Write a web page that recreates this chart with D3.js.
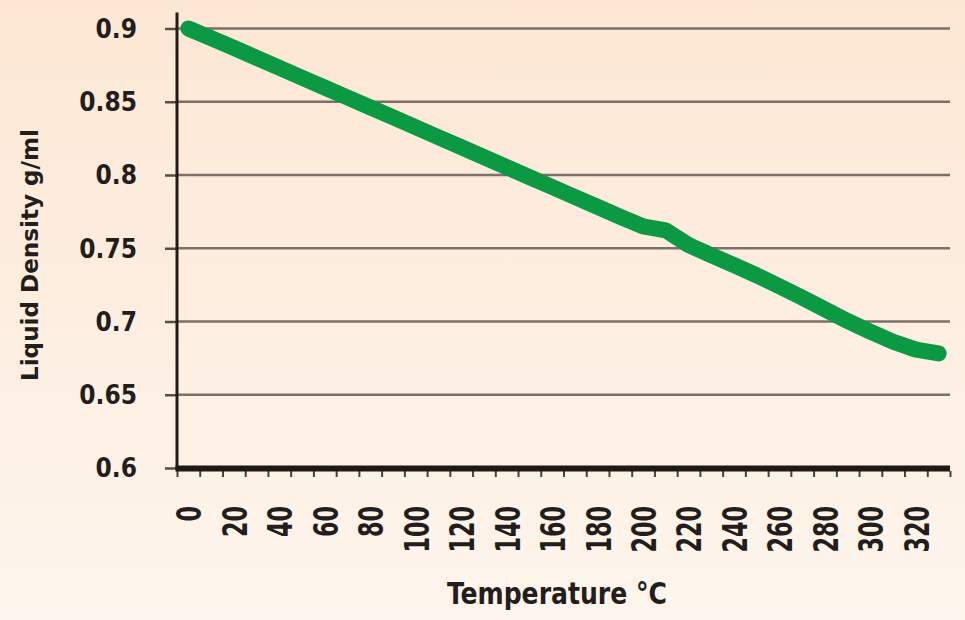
<!DOCTYPE html>
<html>
<head>
<meta charset="utf-8">
<script src="https://cdn.jsdelivr.net/npm/d3@7"></script>
<style>
  html, body { margin: 0; padding: 0; background: #fdf0e3; }
  svg { display: block; }
</style>
</head>
<body>
<svg id="chart" width="965" height="620"></svg>
<script>
// ---- data ----
const temperatures = [0, 10, 20, 30, 40, 50, 60, 70, 80, 90, 100, 110, 120, 130, 140, 150, 160,
  170, 180, 190, 200, 210, 220, 230, 240, 250, 260, 270, 280, 290, 300, 310, 320, 330];
const density = [0.9000, 0.8935, 0.8868, 0.8800, 0.8732, 0.8664, 0.8596, 0.8529, 0.8462, 0.8394,
  0.8326, 0.8258, 0.8190, 0.8122, 0.8054, 0.7986, 0.7918, 0.7850, 0.7782, 0.7714, 0.7650, 0.7622,
  0.7522, 0.7452, 0.7385, 0.7315, 0.7240, 0.7163, 0.7083, 0.7003, 0.6930, 0.6862, 0.6808, 0.6782];
const xTickLabels = [0, 20, 40, 60, 80, 100, 120, 140, 160, 180, 200, 220, 240, 260, 280, 300, 320];
const yTicks = [0.6, 0.65, 0.7, 0.75, 0.8, 0.85, 0.9];
const xTitle = "Temperature \u00B0C";
const yTitle = "Liquid Density g/ml";

(function () {
// ---- layout ----
const svg = d3.select("#chart");
const W = 965, H = 620;
const pLeft = 177, pRight = 950, pTop = 28.5, pBottom = 468;

const defs = svg.append("defs");
const grad = defs.append("linearGradient").attr("id", "bg").attr("x1", 0).attr("y1", 0).attr("x2", 0).attr("y2", 1);
grad.append("stop").attr("offset", "0%").attr("stop-color", "#fde7d4");
grad.append("stop").attr("offset", "100%").attr("stop-color", "#fdf5ed");
svg.append("rect").attr("width", W).attr("height", H).attr("fill", "url(#bg)");

const x = d3.scaleBand().domain(temperatures).range([pLeft, pRight]).paddingInner(0).paddingOuter(0);
const xEdges = d3.scaleLinear().domain([0, temperatures.length]).range([pLeft, pRight]);
const y = d3.scaleLinear().domain([0.6, 0.9]).range([pBottom, pTop]);

const tickFont = "'DejaVu Sans Condensed', 'DejaVu Sans', sans-serif";
const narrowFont = "'Liberation Sans Narrow', 'DejaVu Sans Condensed', 'DejaVu Sans', sans-serif";

// y ticks (outward)
const yAxis = svg.append("g")
  .attr("transform", `translate(${pLeft},0)`)
  .call(d3.axisLeft(y).tickValues(yTicks).tickSize(12).tickSizeOuter(0).tickFormat(""));
yAxis.select(".domain").remove();
yAxis.selectAll(".tick line").attr("stroke", "#5a4d45").attr("stroke-width", 2.5);

// gridlines
svg.append("g").selectAll("line.grid").data(yTicks.filter(d => d > 0.6)).join("line")
  .attr("class", "grid")
  .attr("x1", pLeft).attr("x2", pRight)
  .attr("y1", d => y(d)).attr("y2", d => y(d))
  .attr("stroke", "#7d7068").attr("stroke-width", 2.6);

svg.append("g").selectAll("text.ylab").data(yTicks).join("text")
  .attr("class", "ylab")
  .attr("x", 137).attr("y", d => y(d)).attr("dy", "0.36em")
  .attr("text-anchor", "end")
  .attr("font-family", tickFont).attr("font-stretch", "condensed")
  .attr("font-weight", "bold").attr("font-size", 26)
  .attr("fill", "#231e1b")
  .text(d => d3.format("")(d));

// x ticks at category boundaries
const xAxis = svg.append("g")
  .attr("transform", `translate(0,${pBottom + 3})`)
  .call(d3.axisBottom(xEdges).tickValues(d3.range(0, temperatures.length + 1)).tickSize(6).tickFormat(""));
xAxis.select(".domain").remove();
xAxis.selectAll(".tick line").attr("stroke", "#4a3f39").attr("stroke-width", 2);

// axis lines
svg.append("line").attr("x1", pLeft).attr("x2", pLeft).attr("y1", y(0.911)).attr("y2", pBottom)
  .attr("stroke", "#221c18").attr("stroke-width", 3);
svg.append("line").attr("x1", pLeft - 1.5).attr("x2", pRight).attr("y1", pBottom + 0.5).attr("y2", pBottom + 0.5)
  .attr("stroke", "#1f1915").attr("stroke-width", 6);

// x tick labels (rotated)
svg.append("g").selectAll("text.xlab").data(xTickLabels).join("text")
  .attr("class", "xlab")
  .attr("transform", d => `translate(${x(d) + x.bandwidth() / 2},506) rotate(-90)`)
  .attr("dy", "0.38em")
  .attr("text-anchor", "end")
  .attr("font-family", narrowFont).attr("font-stretch", "condensed")
  .attr("font-weight", "bold").attr("font-size", 34)
  .attr("textLength", d => String(d).length * 15.5)
  .attr("lengthAdjust", "spacingAndGlyphs")
  .attr("fill", "#231e1b")
  .text(d => d);

// line
const line = d3.line()
  .x((d, i) => x(temperatures[i]) + x.bandwidth() / 2)
  .y(d => y(d));
svg.append("path").datum(density)
  .attr("d", line)
  .attr("fill", "none")
  .attr("stroke", "#0b9a43")
  .attr("stroke-width", 16)
  .attr("stroke-linecap", "round")
  .attr("stroke-linejoin", "round");

// titles
svg.append("text")
  .attr("x", 557).attr("y", 604)
  .attr("text-anchor", "middle")
  .attr("font-family", narrowFont).attr("font-stretch", "condensed")
  .attr("font-weight", "bold").attr("font-size", 31)
  .attr("textLength", 220).attr("lengthAdjust", "spacingAndGlyphs")
  .attr("fill", "#231e1b")
  .text(xTitle);

svg.append("text")
  .attr("transform", "translate(38,255) rotate(-90)")
  .attr("text-anchor", "middle")
  .attr("font-family", narrowFont).attr("font-stretch", "condensed")
  .attr("font-weight", "bold").attr("font-size", 23)
  .attr("textLength", 252).attr("lengthAdjust", "spacingAndGlyphs")
  .attr("fill", "#231e1b")
  .text(yTitle);
})();
</script>
</body>
</html>
